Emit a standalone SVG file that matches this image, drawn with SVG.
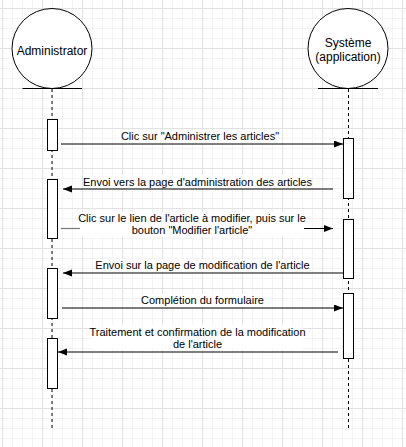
<svg xmlns="http://www.w3.org/2000/svg" width="406" height="447" viewBox="0 0 406 447">
<defs>
<pattern id="grid" patternUnits="userSpaceOnUse" x="2" y="8" width="40" height="40">
<path d="M10.5,0V40M20.5,0V40M30.5,0V40M0,10.5H40M0,20.5H40M0,30.5H40" stroke="#f3f3f3" stroke-width="1" fill="none"/>
<path d="M0.5,0V40M0,0.5H40" stroke="#e2e2e2" stroke-width="1" fill="none"/>
</pattern>
<marker id="arr" markerUnits="userSpaceOnUse" markerWidth="10" markerHeight="8" refX="9" refY="3.5" orient="auto">
<path d="M0,0 L9,3.5 L0,7 z" fill="#000"/>
</marker>
<style>
.t{font-family:"Liberation Sans",Arial,sans-serif;font-size:11px;fill:#000;text-anchor:middle}
.h{font-family:"Liberation Sans",Arial,sans-serif;font-size:12px;fill:#000;text-anchor:middle}
.act{fill:#fff;stroke:#000;stroke-width:1}
.life{stroke:#000;stroke-width:1;stroke-dasharray:3 3;fill:none}
.msg{stroke:#000;stroke-width:1;fill:none}
.bg{fill:#fff}
</style>
</defs>
<rect width="406" height="447" fill="#fff"/>
<rect width="406" height="447" fill="url(#grid)"/>

<g id="admin">
<line class="life" x1="52" y1="89" x2="52" y2="428"/>
<circle cx="52" cy="48.5" r="40" fill="#fff" stroke="#000" stroke-width="1"/>
<line x1="22.5" y1="88.5" x2="82" y2="88.5" stroke="#000" stroke-width="1.2"/>
<text class="h" x="52" y="55">Administrator</text>
<rect class="act" x="47.5" y="119.5" width="10" height="31"/>
<rect class="act" x="47.5" y="179.5" width="10" height="59"/>
<rect class="act" x="47.5" y="268.5" width="10" height="50"/>
<rect class="act" x="47.5" y="338.5" width="10" height="50"/>
</g>

<g id="systeme">
<line class="life" x1="348.5" y1="89" x2="348.5" y2="428"/>
<circle cx="348" cy="48.5" r="40" fill="#fff" stroke="#000" stroke-width="1"/>
<line x1="318" y1="88.5" x2="378" y2="88.5" stroke="#000" stroke-width="1.2"/>
<text class="h" x="348" y="47">Système</text>
<text class="h" x="348" y="61">(application)</text>
<rect class="act" x="343.5" y="138.5" width="10" height="60"/>
<rect class="act" x="343.5" y="219.5" width="10" height="59"/>
<rect class="act" x="343.5" y="293.5" width="10" height="65"/>
</g>

<g id="connectors">
<line class="msg" x1="61" y1="144" x2="343" y2="144" marker-end="url(#arr)"/>
<rect class="bg" x="121" y="130" width="158" height="13"/>
<text class="t" x="200" y="140">Clic sur "Administrer les articles"</text>

<line class="msg" x1="333" y1="189" x2="63" y2="189" marker-end="url(#arr)"/>
<rect class="bg" x="85" y="175" width="225" height="13"/>
<text class="t" x="197.5" y="186">Envoi vers la page d'administration des articles</text>

<line x1="61" y1="228.5" x2="80" y2="228.5" stroke="#777" stroke-width="1.2"/>
<line class="msg" x1="304" y1="228.5" x2="333" y2="228.5" marker-end="url(#arr)"/>
<rect class="bg" x="80" y="212" width="224" height="25"/>
<text class="t" x="192" y="222">Clic sur le lien de l'article à modifier, puis sur le</text>
<text class="t" x="192" y="234">bouton "Modifier l'article"</text>

<line class="msg" x1="343" y1="273" x2="63" y2="273" marker-end="url(#arr)"/>
<rect class="bg" x="98" y="259" width="209" height="13"/>
<text class="t" x="202.5" y="269">Envoi sur la page de modification de l'article</text>

<line class="msg" x1="62" y1="308" x2="343" y2="308" marker-end="url(#arr)"/>
<rect class="bg" x="143" y="294" width="119" height="13"/>
<text class="t" x="202.5" y="304">Complétion du formulaire</text>

<line class="msg" x1="338" y1="352" x2="58" y2="352" marker-end="url(#arr)"/>
<rect class="bg" x="92" y="325" width="211" height="25"/>
<text class="t" x="197.5" y="336">Traitement et confirmation de la modification</text>
<text class="t" x="197.5" y="348">de l'article</text>
</g>
</svg>
